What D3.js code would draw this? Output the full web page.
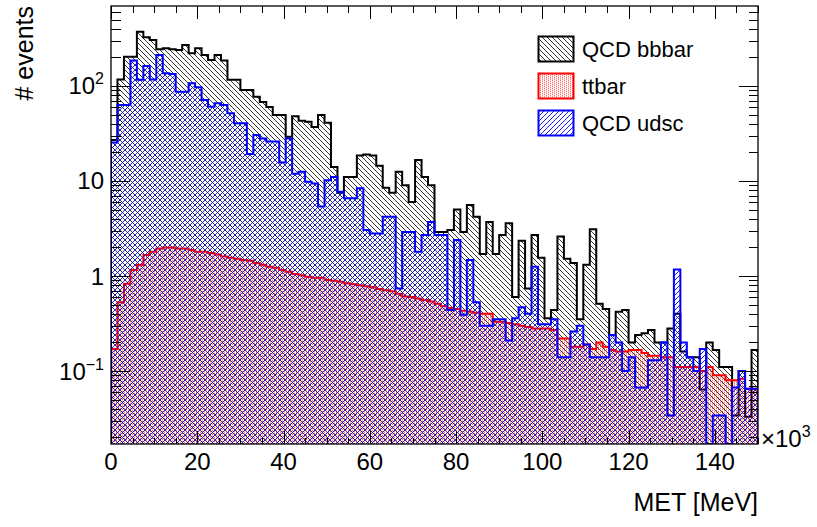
<!DOCTYPE html>
<html><head><meta charset="utf-8">
<script src="https://cdn.jsdelivr.net/npm/d3@7"></script>
<style>body{margin:0;background:#fff}svg{display:block}</style>
</head><body><svg id="c" width="817" height="527"></svg>
<script>
// ---- data (MET in units of 10^3 MeV, 100 bins from 0 to 150) ----
const xMin = 0, xMax = 150, nBins = 100;
const yMin = 0.01705, yMax = 695;

const qcdBBbar = [27,117,203,203,373,325,305,243,249,243,
  239,270,221,249,212,188,212,185,116,116,
  91,91,77,68,60,49.5,49.5,29.3,48,43,
  42,37,49.5,41,14,7.5,11,11,18.5,19,
  18.5,14.5,8.5,7.5,12.5,9,6,16.6,11,9,
  2.9,2.9,3.05,5,2.9,5.6,4.2,1.7,3.7,1.7,
  2.7,3.6,0.6,2.35,0.74,2.7,1.56,0.36,0.44,2.6,
  1.52,1.37,0.35,1.31,3.1,0.51,0.45,0.24,0.42,0.44,
  0.2,0.24,0.25,0.27,0.2,0.2,0.28,0.4,0.16,0.14,
  0.14,0.064,0.2,0.166,0.11,0.11,0.034,0.1,0.033,0.166];

const ttbar = [0.17,0.53,0.83,1.16,1.31,1.66,1.8,1.95,2.0,2.0,
  1.95,1.95,1.88,1.8,1.8,1.75,1.68,1.6,1.56,1.52,
  1.47,1.45,1.37,1.31,1.25,1.22,1.16,1.11,1.05,1.02,
  0.98,0.96,0.96,0.91,0.89,0.87,0.84,0.82,0.8,0.78,
  0.76,0.73,0.71,0.69,0.65,0.61,0.6,0.58,0.56,0.54,
  0.51,0.48,0.46,0.45,0.43,0.42,0.41,0.4,0.4,0.33,
  0.33,0.32,0.31,0.3,0.29,0.28,0.28,0.28,0.27,0.22,
  0.22,0.18,0.18,0.19,0.17,0.2,0.18,0.166,0.16,0.16,
  0.166,0.166,0.155,0.145,0.145,0.14,0.14,0.11,0.11,0.11,
  0.11,0.1,0.11,0.09,0.09,0.08,0.08,0.083,0.065,0.065];

const qcdUdsc = [25.5,63,63,185,116,162,117,212,136,134,
  87,87,107,97,71,60.5,66,63,51.5,40.5,
  40.5,19.2,30.5,28,26,26,15.7,28,11.9,12.5,
  9.8,9.4,5.4,10.2,11,7.7,6.6,6.6,8.4,3.05,
  2.8,2.8,4.2,4.2,0.74,2.9,2.9,1.8,2.7,3.7,
  2.7,2.7,0.44,2.4,0.39,1.47,0.53,0.3,0.3,0.35,
  0.35,0.21,0.36,0.47,0.4,1.25,0.31,0.31,0.35,0.14,
  0.14,0.26,0.3,0.19,0.14,0.14,0.14,0.24,0.2,0.1,
  0.14,0.067,0.067,0.13,0.13,0.2,0.034,1.17,0.2,0.14,
  0.1,0.17,0,0.034,0.034,0,0.067,0.1,0.065,0.065];

const seriesNames = ["QCD bbbar", "ttbar", "QCD udsc"];
const xTickValues = [0,20,40,60,80,100,120,140];
const yTickLabels = [
  {v:100, base:"10", exp:"2"},
  {v:10, base:"10", exp:""},
  {v:1, base:"1", exp:""},
  {v:0.1, base:"10", exp:"-1"}
];
const xTitle = "MET [MeV]";
const yTitle = "# events";

// ---- layout ----
const L = 111, R = 758, T = 6, B = 444;
const FONT = "'Liberation Sans', Arial, Helvetica, sans-serif";
const svg = d3.select("#c").style("font-family", FONT);

const x = d3.scaleLinear().domain([xMin, xMax]).range([L, R]);
const y = d3.scaleLog().domain([yMin, yMax]).range([B, T]).clamp(true);
const yv = v => (v > 0 ? y(v) : B);

// ---- patterns ----
const defs = svg.append("defs");
const H = 5;
const pb = defs.append("pattern").attr("id","hBlack").attr("patternUnits","userSpaceOnUse")
  .attr("width",H).attr("height",H);
pb.append("path").attr("d",`M-1,-1 L${H+1},${H+1} M-1,${H-1} L1,${H+1} M${H-1},-1 L${H+1},1`).attr("stroke","#000")
  .attr("stroke-width",0.8);
const pu = defs.append("pattern").attr("id","hBlue").attr("patternUnits","userSpaceOnUse")
  .attr("width",H).attr("height",H);
pu.append("path").attr("d",`M-1,${H+1} L${H+1},-1 M-1,1 L1,-1 M${H-1},${H+1} L${H+1},${H-1}`).attr("stroke","#0000ff")
  .attr("stroke-width",0.9);
const pr = defs.append("pattern").attr("id","dRed").attr("patternUnits","userSpaceOnUse")
  .attr("width",4).attr("height",4);
[[0,0,0.55],[0,2,0.55],[2,1,0.55],[2,3,0.55],[0,1,0.18],[0,3,0.18],[2,0,0.18],[2,2,0.18]].forEach(([a,b,o]) =>
  pr.append("rect").attr("x",a).attr("y",b).attr("width",1).attr("height",1)
    .attr("fill","#ff0000").attr("fill-opacity",o));

defs.append("clipPath").attr("id","clip").append("rect")
  .attr("x",L).attr("y",T).attr("width",R-L).attr("height",B-T);

// ---- histograms ----
const bw = (xMax - xMin) / nBins;
function histPoints(vals) {
  const pts = [[x(xMin), B]];
  vals.forEach((v, i) => {
    pts.push([x(xMin + i*bw), yv(v)]);
    pts.push([x(xMin + (i+1)*bw), yv(v)]);
  });
  pts.push([x(xMax), B]);
  return pts;
}
const line = d3.line();
const gH = svg.append("g").attr("clip-path","url(#clip)");
const hists = [
  {vals: qcdBBbar, fill: "url(#hBlack)", stroke: "#000000"},
  {vals: ttbar, fill: "url(#dRed)", stroke: "#ff0000"},
  {vals: qcdUdsc, fill: "url(#hBlue)", stroke: "#0000ff"}
];
hists.forEach(h => {
  const p = histPoints(h.vals);
  gH.append("path").attr("d", line(p) + "Z").attr("fill", h.fill).attr("stroke","none");
  gH.append("path").attr("d", line(p)).attr("fill","none").attr("stroke", h.stroke)
    .attr("stroke-width", 2).attr("stroke-linejoin","miter");
});

// ---- axes ----
const minorX = d3.range(xMin, xMax + 0.001, 5).filter(v => v % 20 !== 0);
const gAx = svg.append("g").attr("shape-rendering","crispEdges");
function ax(gen, tx, ty, vals, size) {
  const g = gAx.append("g").attr("transform", `translate(${tx},${ty})`)
    .call(gen.tickValues(vals).tickSize(size).tickFormat(""));
  g.select(".domain").remove();
  g.selectAll("line").attr("stroke","#000").attr("stroke-width",1);
  return g;
}
ax(d3.axisBottom(x), 0, B, xTickValues, -13);
ax(d3.axisBottom(x), 0, B, minorX, -6.5);
ax(d3.axisTop(x), 0, T, xTickValues, -13);
ax(d3.axisTop(x), 0, T, minorX, -6.5);

const yMajor = yTickLabels.map(d => d.v);
const yMinor = [];
[-2,-1,0,1,2].forEach(e => { for (let k = 2; k <= 9; k++) { const v = k*Math.pow(10,e); if (v > yMin && v < yMax) yMinor.push(v); } });
ax(d3.axisLeft(y), L, 0, yMajor, -19);
ax(d3.axisLeft(y), L, 0, yMinor, -9.5);
ax(d3.axisRight(y), R, 0, yMajor, -19);
ax(d3.axisRight(y), R, 0, yMinor, -9.5);

// frame
svg.append("rect").attr("x",L).attr("y",T).attr("width",R-L).attr("height",B-T)
  .attr("fill","none").attr("stroke","#000").attr("stroke-width",1.3);

// tick labels
svg.append("g").selectAll("text").data(xTickValues).join("text")
  .attr("x", d => x(d)).attr("y", 470).attr("text-anchor","middle")
  .attr("font-size", 24).text(d => d);

const yl = svg.append("g").selectAll("text").data(yTickLabels).join("text")
  .attr("x", 104).attr("y", d => y(d.v) + 8.5).attr("text-anchor","end").attr("font-size",24);
yl.each(function(d) {
  const t = d3.select(this);
  t.append("tspan").text(d.base);
  if (d.exp) t.append("tspan").attr("font-size",16).attr("dy",-10).text(d.exp === "-1" ? "\u22121" : d.exp);
});

// exponent label
const ex = svg.append("text").attr("x", 761).attr("y", 447).attr("font-size", 24);
ex.append("tspan").text("\u00d710");
ex.append("tspan").attr("font-size",16).attr("dy",-10).text("3");

// axis titles
svg.append("text").attr("x", R).attr("y", 511).attr("text-anchor","end").attr("font-size",25).text(xTitle);
svg.append("text").attr("transform", `translate(33,${T}) rotate(-90)`).attr("text-anchor","end")
  .attr("font-size",25).text(yTitle);

// ---- legend ----
const leg = svg.append("g");
const legFill = ["url(#hBlack)","url(#dRed)","url(#hBlue)"];
const legStroke = ["#000000","#ff0000","#0000ff"];
seriesNames.forEach((n, i) => {
  const cy = 49 + i*37;
  leg.append("rect").attr("x",538.5).attr("y",cy-12.5).attr("width",35).attr("height",25)
    .attr("fill",legFill[i]).attr("stroke",legStroke[i]).attr("stroke-width",2);
  leg.append("text").attr("x",582).attr("y",cy+8.3).attr("font-size",22).text(n);
});
</script></body></html>
